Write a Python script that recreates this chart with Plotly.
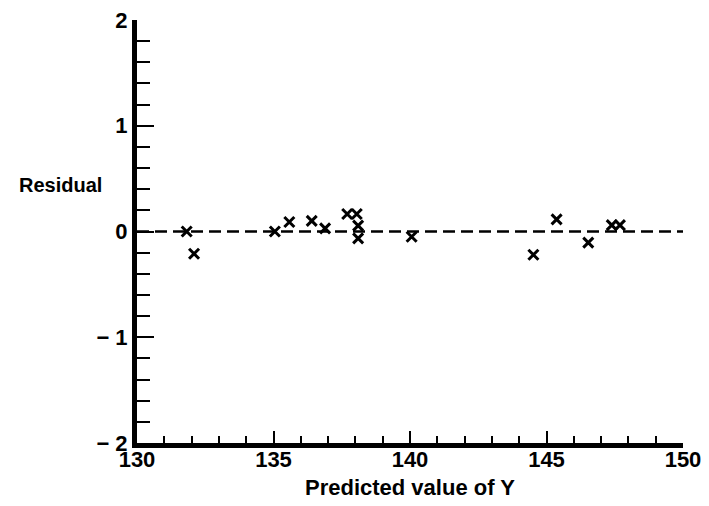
import plotly.graph_objects as go

predicted = [131.82, 132.09, 135.05, 135.58, 136.40, 136.89, 137.70, 138.05, 138.10, 138.10,
             140.06, 144.52, 145.37, 146.53, 147.39, 147.69]
residual = [0.00, -0.21, 0.00, 0.09, 0.10, 0.03, 0.165, 0.165, 0.055, -0.065,
            -0.05, -0.22, 0.115, -0.105, 0.06, 0.06]

x_tickvals = [130, 135, 140, 145, 150]
x_ticktext = ["130", "135", "140", "145", "150"]
y_tickvals = [-2, -1, 0, 1, 2]
y_ticktext = ["\u2212 2", "\u2212 1", "0", "1", "2"]

FONT = "Liberation Sans, Arial, Helvetica, sans-serif"

fig = go.Figure()
fig.add_trace(go.Scatter(x=[130, 150], y=[0, 0], mode="lines",
                         line=dict(color="black", width=2.5, dash="12px,6px"),
                         hoverinfo="skip", showlegend=False))
fig.add_trace(go.Scatter(x=predicted, y=residual, mode="markers",
                         marker=dict(symbol="x-thin-open", size=10, color="black",
                                     line=dict(color="black", width=3)),
                         showlegend=False))

fig.update_layout(
    width=709, height=506,
    margin=dict(l=129, r=34, t=12, b=71, autoexpand=False),
    paper_bgcolor="white", plot_bgcolor="white",
    font=dict(family=FONT, color="black"),
    xaxis=dict(range=[130, 150], tickvals=x_tickvals, ticktext=x_ticktext, automargin=False,
               showgrid=False, zeroline=False, showline=True, linecolor="black", linewidth=5,
               ticks="inside", ticklen=12, tickwidth=1.5, tickcolor="black",
               minor=dict(dtick=1, tick0=130, ticks="inside", ticklen=7, tickwidth=1.5, tickcolor="black", showgrid=False),
               tickfont=dict(size=22, weight="bold", family=FONT),
               ticklabelstandoff=-7, ticklabeloverflow="allow"),
    yaxis=dict(range=[-2, 2], tickvals=y_tickvals, ticktext=y_ticktext, automargin=False,
               showgrid=False, zeroline=False, showline=True, linecolor="black", linewidth=5,
               ticks="inside", ticklen=17, tickwidth=2, tickcolor="black",
               minor=dict(dtick=0.2, tick0=0, ticks="inside", ticklen=13, tickwidth=2, tickcolor="black", showgrid=False),
               tickfont=dict(size=22, weight="bold", family=FONT),
               ticklabeloverflow="allow"),
    annotations=[
        dict(text="Residual", xref="paper", yref="paper", x=-0.22, y=0.61,
             xanchor="left", yanchor="middle", showarrow=False,
             font=dict(size=20, weight="bold", family=FONT)),
        dict(text="Predicted value of Y", xref="paper", yref="paper", x=0.5, y=-0.106,
             xanchor="center", yanchor="middle", showarrow=False,
             font=dict(size=22, weight="bold", family=FONT)),
    ],
)

fig.write_html("out.html")
